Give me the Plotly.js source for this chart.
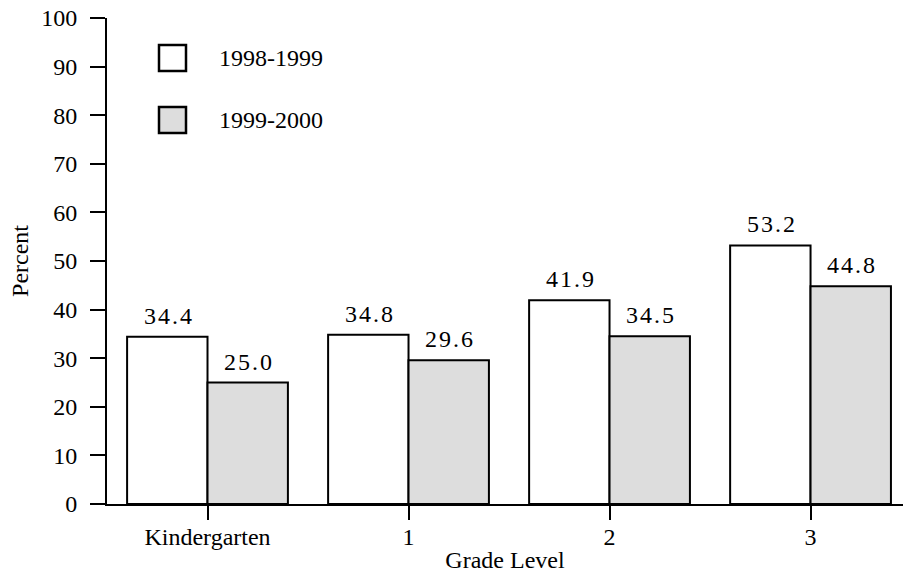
<!DOCTYPE html>
<html>
<head>
<meta charset="utf-8">
<script src="https://cdn.plot.ly/plotly-3.0.1.min.js"></script>
<style>html,body{margin:0;padding:0;background:#fff;}#chart{width:903px;height:578px;}</style>
</head>
<body>
<div id="chart"></div>
<script>
const categories = ["Kindergarten", "1", "2", "3"];
const seriesNames = ["1998-1999", "1999-2000"];
const values1998 = [34.4, 34.8, 41.9, 53.2];
const values1999 = [25.0, 29.6, 34.5, 44.8];
const yTicks = [0, 10, 20, 30, 40, 50, 60, 70, 80, 90, 100];

const FONT = "'Liberation Serif', 'Times New Roman', Times, serif";
const fills = ["#ffffff", "#dddddd"];
const HS = "\u200A";
function spaced(v) { return v.toFixed(1).split("").join(HS); }

const series = [values1998, values1999];
const traces = series.map((vals, i) => ({
  type: "bar",
  name: seriesNames[i],
  x: categories,
  y: vals,
  marker: { color: fills[i], line: { color: "#000", width: 2 } },
  showlegend: false,
  hoverinfo: "none"
}));

const annotations = [];
series.forEach((vals, i) => {
  vals.forEach((v, j) => {
    annotations.push({
      x: categories[j], y: v, xref: "x", yref: "y",
      text: spaced(v), showarrow: false,
      xanchor: "center", yanchor: "bottom",
      xshift: i === 0 ? -40 : 40, yshift: 6,
      font: { family: FONT, size: 24, color: "#000" }
    });
  });
});

// legend drawn manually
const shapes = [];
seriesNames.forEach((name, i) => {
  const yc = i === 0 ? 58 : 120;
  shapes.push({
    type: "rect", xref: "paper", yref: "paper",
    x0: (159 - 107) / 796, x1: (186 - 107) / 796,
    y0: (504 - (yc + 13)) / 486, y1: (504 - (yc - 13)) / 486,
    fillcolor: fills[i], line: { color: "#000", width: 2.5 }
  });
  annotations.push({
    xref: "paper", yref: "paper",
    x: (217 - 107) / 796, y: (504 - yc) / 486,
    xanchor: "left", yanchor: "middle", showarrow: false,
    text: name, font: { family: FONT, size: 24, color: "#000" }
  });
});

const layout = {
  width: 903, height: 578,
  margin: { l: 107, r: 0, t: 18, b: 74, pad: 0 },
  paper_bgcolor: "#fff", plot_bgcolor: "#fff",
  font: { family: FONT, size: 24, color: "#000" },
  barmode: "group", bargap: 0.2, bargroupgap: 0,
  xaxis: {
    type: "category", range: [-0.5, 3.46],
    showline: true, linecolor: "#000", linewidth: 2,
    ticks: "outside", ticklen: 14, tickwidth: 2, tickcolor: "#000",
    showgrid: false, zeroline: false,
    ticklabelstandoff: -4,
    tickfont: { family: FONT, size: 24 },
    title: { text: "Grade Level", font: { family: FONT, size: 24 }, standoff: 2 }
  },
  yaxis: {
    range: [0, 100], tickvals: yTicks, ticktext: yTicks.map(String),
    showline: true, linecolor: "#000", linewidth: 2,
    ticks: "outside", ticklen: 15, tickwidth: 2, tickcolor: "#000",
    showgrid: false, zeroline: false,
    ticklabelstandoff: 8,
    tickfont: { family: FONT, size: 24 },
    title: { text: "Percent", font: { family: FONT, size: 24 }, standoff: 6 }
  },
  shapes: shapes,
  annotations: annotations
};

Plotly.newPlot("chart", traces, layout, { displayModeBar: false, staticPlot: true });
</script>
</body>
</html>
